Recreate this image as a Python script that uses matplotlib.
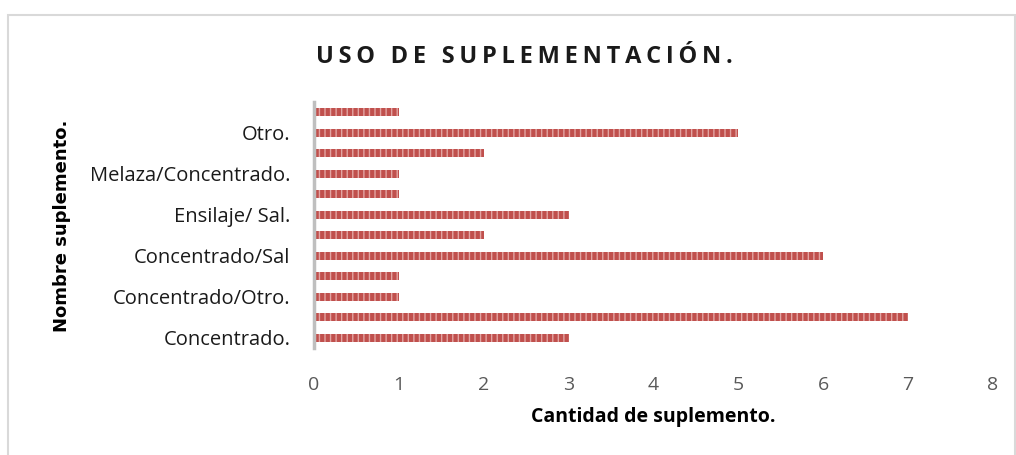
import matplotlib
matplotlib.use("Agg")
import matplotlib.pyplot as plt
import numpy as np
from matplotlib.patches import Rectangle

# Data (bottom to top)
values = [3, 7, 1, 1, 6, 2, 3, 1, 1, 2, 5, 1]
tick_labels = ["Concentrado.", "", "Concentrado/Otro.", "", "Concentrado/Sal", "",
               "Ensilaje/ Sal.", "", "Melaza/Concentrado.", "", "Otro.", ""]
x_ticks = [0, 1, 2, 3, 4, 5, 6, 7, 8]

title = "USO DE SUPLEMENTACIÓN."
xlabel = "Cantidad de suplemento."
ylabel = "Nombre suplemento."

W, H = 1016, 455
fig = plt.figure(figsize=(W / 100, H / 100), dpi=100)
fig.patch.set_facecolor("white")

# outer chart frame
fig.add_artist(Rectangle((8 / W, -0.05), (1015 - 8) / W, 1.05 - 15 / H,
                         transform=fig.transFigure, fill=False,
                         edgecolor="#D9D9D9", linewidth=1.5))

ax = fig.add_axes([314 / W, 1 - 348 / H, (993 - 314) / W, (348 - 102) / H])
pos = np.arange(len(values))
ax.barh(pos, values, height=0.4, color="#C0504D", edgecolor="#E3A5A3",
        linewidth=0, hatch="|||")

ax.set_xlim(0, 8)
ax.set_ylim(-0.5, len(values) - 0.5)
ax.set_xticks(x_ticks)
ax.set_xticklabels([str(t) for t in x_ticks], fontsize=14, color="#595959",
                   family="Open Sans")
ax.set_yticks(pos)
ax.set_yticklabels(tick_labels, fontsize=14.5, color="#1a1a1a", family="Open Sans")
ax.tick_params(axis="both", length=0)
ax.tick_params(axis="x", pad=20)
ax.tick_params(axis="y", pad=17)

for s in ["top", "right", "bottom"]:
    ax.spines[s].set_visible(False)
ax.spines["left"].set_color("#BFBFBF")
ax.spines["left"].set_linewidth(2.5)

spaced = "\u2009".join(title)
fig.text(524 / W, 1 - 57 / H, spaced, ha="center", va="center",
         fontsize=17, fontweight="bold", color="#1a1a1a", family="Open Sans")
fig.text(653 / W, 1 - 417 / H, xlabel, ha="center", va="center",
         fontsize=14, fontweight="bold", color="#000000", family="Open Sans")
fig.text(62 / W, 1 - 226 / H, ylabel, ha="center", va="center", rotation=90,
         fontsize=13, fontweight="bold", color="#000000", family="DejaVu Sans")

fig.savefig("out.png", dpi=100, facecolor="white")
